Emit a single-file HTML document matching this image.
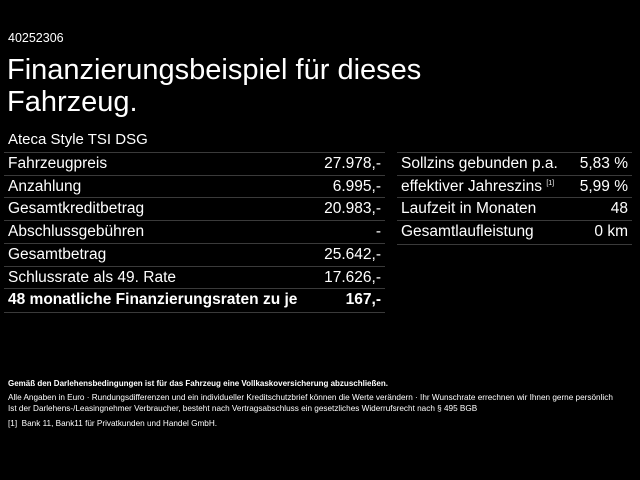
<!DOCTYPE html>
<html><head><meta charset="utf-8"><style>
body{margin:0;width:640px;height:480px;background:#000;color:#fff;font-family:"Liberation Sans",sans-serif;position:relative;overflow:hidden}
.a{position:absolute;white-space:nowrap}
.row{position:absolute;height:22.8px;border-top:1px solid #3a3a3a;font-size:15.5px;line-height:22px}
.row span{position:absolute;right:4px;top:0}
.row b{font-weight:bold}
.l{left:4px;width:381px}
.r{left:397px;width:235px}
.row .t{position:static;padding-left:4px}
.f{font-size:8.2px;color:#fff}
sup{font-size:7px;line-height:0;vertical-align:6px}
</style></head><body>
<div class="a" style="left:8px;top:31px;font-size:12.5px">40252306</div>
<div class="a" style="left:7px;top:54px;font-size:29px;line-height:32px">Finanzierungsbeispiel für dieses<br>Fahrzeug.</div>
<div class="a" style="left:8px;top:131px;font-size:15px">Ateca Style TSI DSG</div>

<div class="row l" style="top:152px"><span class="t">Fahrzeugpreis</span><span>27.978,-</span></div>
<div class="row l" style="top:175px"><span class="t">Anzahlung</span><span>6.995,-</span></div>
<div class="row l" style="top:197px"><span class="t">Gesamtkreditbetrag</span><span>20.983,-</span></div>
<div class="row l" style="top:220px"><span class="t">Abschlussgebühren</span><span>-</span></div>
<div class="row l" style="top:243px"><span class="t">Gesamtbetrag</span><span>25.642,-</span></div>
<div class="row l" style="top:266px"><span class="t">Schlussrate als 49. Rate</span><span>17.626,-</span></div>
<div class="row l" style="top:288px;border-bottom:1px solid #3a3a3a"><span class="t"><b>48 monatliche Finanzierungsraten zu je</b></span><span><b>167,-</b></span></div>

<div class="row r" style="top:152px"><span class="t">Sollzins gebunden p.a.</span><span>5,83 %</span></div>
<div class="row r" style="top:175px"><span class="t">effektiver Jahreszins <sup>[1]</sup></span><span>5,99 %</span></div>
<div class="row r" style="top:197px"><span class="t">Laufzeit in Monaten</span><span>48</span></div>
<div class="row r" style="top:220px;border-bottom:1px solid #3a3a3a"><span class="t">Gesamtlaufleistung</span><span>0 km</span></div>

<div class="a f" style="left:8px;top:379px;font-weight:bold;font-size:8px">Gemäß den Darlehensbedingungen ist für das Fahrzeug eine Vollkaskoversicherung abzuschließen.</div>
<div class="a f" style="left:8px;top:393px">Alle Angaben in Euro · Rundungsdifferenzen und ein individueller Kreditschutzbrief können die Werte verändern · Ihr Wunschrate errechnen wir Ihnen gerne persönlich</div>
<div class="a f" style="left:8px;top:404px">Ist der Darlehens-/Leasingnehmer Verbraucher, besteht nach Vertragsabschluss ein gesetzliches Widerrufsrecht nach § 495 BGB</div>
<div class="a f" style="left:8px;top:419px">[1]&nbsp; Bank 11, Bank11 für Privatkunden und Handel GmbH.</div>
</body></html>
